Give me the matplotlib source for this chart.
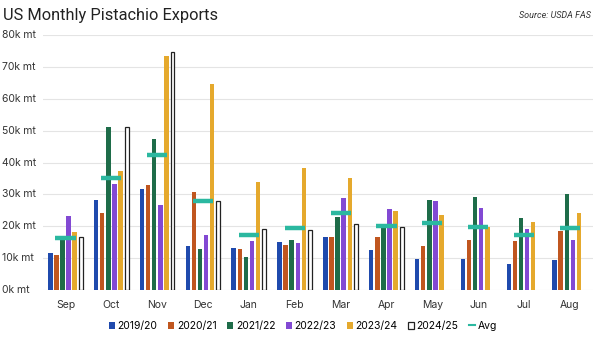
import matplotlib
matplotlib.use("Agg")
import matplotlib.pyplot as plt
import numpy as np
from matplotlib.lines import Line2D
from matplotlib.patches import Patch

months = ["Sep", "Oct", "Nov", "Dec", "Jan", "Feb", "Mar", "Apr", "May", "Jun", "Jul", "Aug"]
seasons = ["2019/20", "2020/21", "2021/22", "2022/23", "2023/24", "2024/25"]

y2019 = [11.7, 28.2, 31.8, 13.8, 13.3, 15.0, 16.6, 12.5, 9.6, 9.8, 8.2, 9.5]
y2020 = [10.9, 24.3, 32.9, 30.7, 12.8, 14.1, 16.6, 16.6, 13.9, 15.6, 15.3, 18.5]
y2021 = [15.7, 51.1, 47.4, 12.8, 10.3, 15.7, 22.9, 19.3, 28.3, 29.2, 22.6, 30.2]
y2022 = [23.1, 33.3, 26.7, 17.4, 15.3, 14.7, 28.8, 25.3, 28.0, 25.6, 19.0, 15.6]
y2023 = [18.2, 37.3, 73.3, 64.5, 34.0, 38.4, 35.1, 24.8, 23.4, 19.7, 21.3, 24.1]
y2024 = [16.5, 51.1, 74.6, 28.0, 19.2, 18.7, 20.6, 19.9, None, None, None, None]
avg = [16.2, 35.0, 42.4, 28.0, 17.4, 19.6, 24.3, 20.1, 20.9, 19.9, 17.4, 19.6]

series = [y2019, y2020, y2021, y2022, y2023, y2024]
colors = ["#1f4aad", "#c0561f", "#1e6c49", "#8249d3", "#e5a92d", "#ffffff"]
edges = [None, None, None, None, None, "#222222"]
avg_color = "#2bb8a0"

fig = plt.figure(figsize=(6.0, 3.37), dpi=100)
ax = fig.add_axes([0.071, 0.1395, 0.917, 0.7565])

x = np.arange(len(months))
slot = 0.133
bw = 0.098
for i, (vals, c, ec) in enumerate(zip(series, colors, edges)):
    xs = [xi + (i - 2.5) * slot for xi, v in zip(x, vals) if v is not None]
    vs = [v for v in vals if v is not None]
    if ec:
        ax.bar(xs, vs, width=bw * 0.85, color=c, edgecolor=ec, linewidth=0.9, zorder=2)
    else:
        ax.bar(xs, vs, width=bw, color=c, linewidth=0, zorder=2)

ax.hlines(avg, x - 0.22, x + 0.22, colors=avg_color, linewidth=3.2, zorder=3)

ax.set_xlim(-0.5, 11.5)
ax.set_ylim(0, 80)
ax.set_yticks(np.arange(0, 81, 10))
ax.set_yticklabels([])
ax.tick_params(axis="y", length=0)
for t in np.arange(0, 81, 10):
    ax.text(-0.0735, t, f"{t}k mt", transform=ax.get_yaxis_transform(), ha="left",
            va="center", fontsize=7.5, color="#333333", family="Inter")
ax.grid(axis="y", color="#e4e4e4", linewidth=0.8, zorder=0)
for s in ax.spines.values():
    s.set_visible(False)
ax.set_xticks(x)
ax.set_xticklabels(months, fontsize=7.5, color="#333333", family="Inter")
ax.tick_params(axis="x", length=0, pad=7)

fig.text(0.005, 0.955, "US Monthly Pistachio Exports", fontsize=11.8, family="Roboto",
         color="#222222", ha="left", va="center")
fig.text(0.985, 0.955, "Source: USDA FAS", fontsize=6.5, style="italic", family="Roboto",
         color="#333333", ha="right", va="center")

handles = [Patch(facecolor=c, edgecolor=(ec if ec else c), linewidth=(0.9 if ec else 0))
           for c, ec in zip(colors, edges)]
handles.append(Line2D([0], [0], color=avg_color, linewidth=1.5))
labels = seasons + ["Avg"]
leg = fig.legend(handles, labels, loc="center", bbox_to_anchor=(0.505, 0.033), ncol=7,
                 frameon=False, handlelength=0.6, handleheight=0.6,
                 handletextpad=0.25, columnspacing=1.0, prop={"family": "Inter", "size": 7.5})

fig.savefig("out.png", dpi=100)
